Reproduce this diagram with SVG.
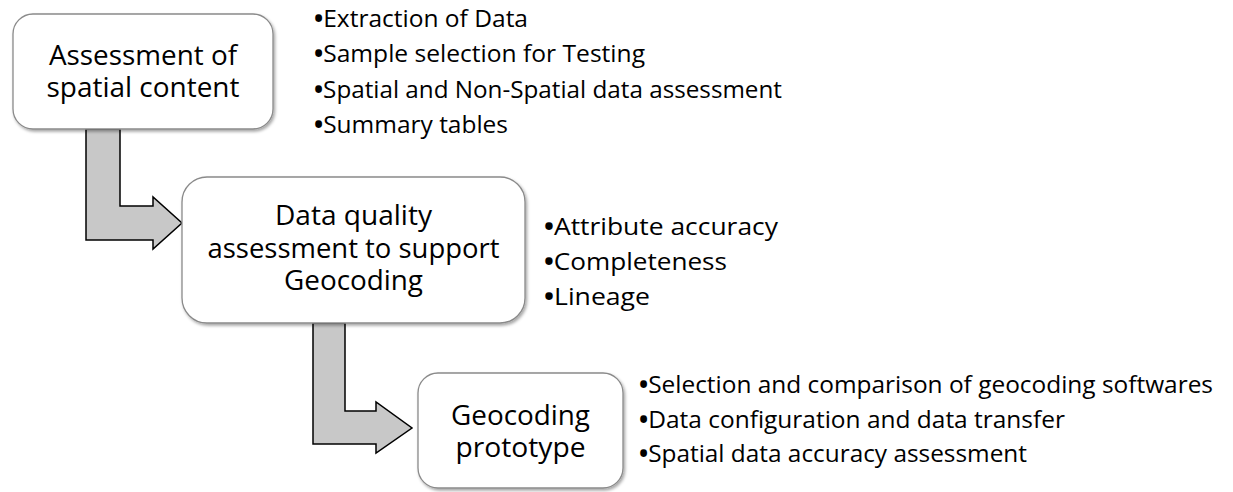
<svg xmlns="http://www.w3.org/2000/svg" width="1233" height="492" viewBox="0 0 1233 492">
<style>
.box{fill:#fff;stroke:#8a8a8a;stroke-width:1.3;filter:url(#sh)}
.arrow{fill:#c8c8c8;stroke:#000;stroke-width:1.5;stroke-linejoin:miter}
.lbl{font-family:"Open Sans","Noto Sans",sans-serif;font-size:27.5px;fill:#000;text-anchor:middle}
.li{font-family:"Open Sans","Noto Sans",sans-serif;font-size:24.5px;fill:#000}
.b{font-weight:bold}
</style>
<defs>
<filter id="sh" x="-10%" y="-10%" width="125%" height="130%">
<feDropShadow dx="1.5" dy="2" stdDeviation="1.8" flood-color="#000" flood-opacity="0.35"/>
</filter>
</defs>
<rect width="1233" height="492" fill="#fff"/>
<g id="connectors">
<polygon class="arrow" points="86,129 120,129 120,206 153,206 153,197 182,223 153,249 153,240 86,240"/>
<polygon class="arrow" points="313,323 345,323 345,411 376,411 376,402 412,428 376,453 376,444 313,444"/>
</g>
<g id="node1">
<rect class="box" x="13" y="14" width="260" height="115" rx="20"/>
<text class="lbl" x="143" y="65" textLength="188" lengthAdjust="spacingAndGlyphs">Assessment of</text>
<text class="lbl" x="143" y="97" textLength="193" lengthAdjust="spacingAndGlyphs">spatial content</text>
</g>
<g id="node2">
<rect class="box" x="182" y="177" width="343" height="146" rx="25"/>
<text class="lbl" x="353.5" y="225" textLength="157" lengthAdjust="spacingAndGlyphs">Data quality</text>
<text class="lbl" x="353.5" y="258" textLength="292" lengthAdjust="spacingAndGlyphs">assessment to support</text>
<text class="lbl" x="353.5" y="290" textLength="139" lengthAdjust="spacingAndGlyphs">Geocoding</text>
</g>
<g id="node3">
<rect class="box" x="418" y="373" width="205" height="115" rx="20"/>
<text class="lbl" x="520.5" y="425" textLength="139" lengthAdjust="spacingAndGlyphs">Geocoding</text>
<text class="lbl" x="520.5" y="457" textLength="130" lengthAdjust="spacingAndGlyphs">prototype</text>
</g>
<g id="list1">
<text class="li" x="314" y="27" textLength="214" lengthAdjust="spacingAndGlyphs"><tspan class="b">•</tspan>Extraction of Data</text>
<text class="li" x="314" y="62.3" textLength="331" lengthAdjust="spacingAndGlyphs"><tspan class="b">•</tspan>Sample selection for Testing</text>
<text class="li" x="314" y="97.6" textLength="468" lengthAdjust="spacingAndGlyphs"><tspan class="b">•</tspan>Spatial and Non-Spatial data assessment</text>
<text class="li" x="314" y="133" textLength="194" lengthAdjust="spacingAndGlyphs"><tspan class="b">•</tspan>Summary tables</text>
</g>
<g id="list2">
<text class="li" x="544" y="235" textLength="234" lengthAdjust="spacingAndGlyphs"><tspan class="b">•</tspan>Attribute accuracy</text>
<text class="li" x="544" y="270" textLength="183" lengthAdjust="spacingAndGlyphs"><tspan class="b">•</tspan>Completeness</text>
<text class="li" x="544" y="305" textLength="106" lengthAdjust="spacingAndGlyphs"><tspan class="b">•</tspan>Lineage</text>
</g>
<g id="list3">
<text class="li" x="639" y="393" textLength="574" lengthAdjust="spacingAndGlyphs"><tspan class="b">•</tspan>Selection and comparison of geocoding softwares</text>
<text class="li" x="639" y="428" textLength="426" lengthAdjust="spacingAndGlyphs"><tspan class="b">•</tspan>Data configuration and data transfer</text>
<text class="li" x="639" y="462" textLength="388" lengthAdjust="spacingAndGlyphs"><tspan class="b">•</tspan>Spatial data accuracy assessment</text>
</g>
</svg>
